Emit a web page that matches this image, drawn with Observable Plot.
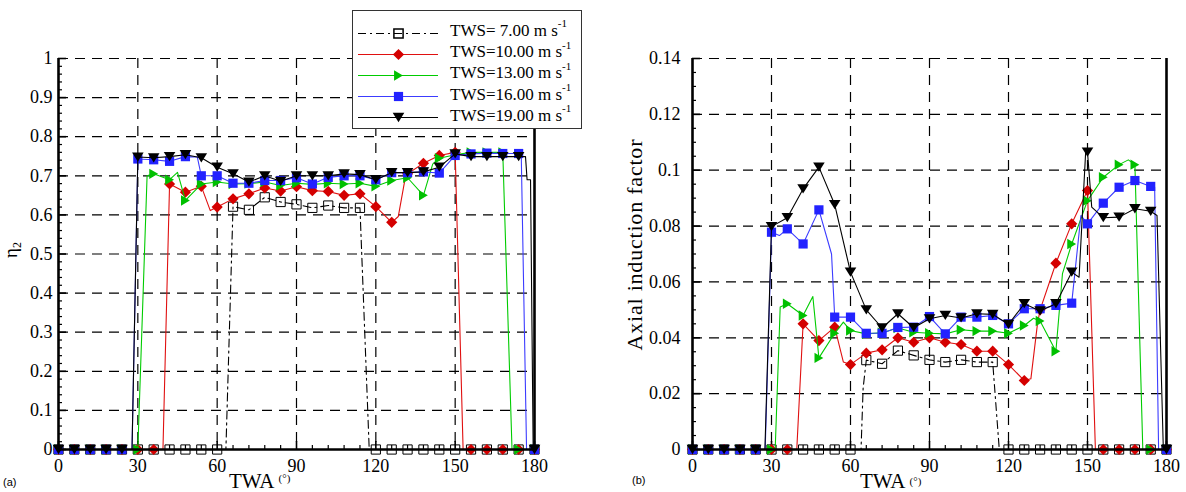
<!DOCTYPE html>
<html><head><meta charset="utf-8">
<script src="https://cdn.jsdelivr.net/npm/d3@7"></script>
<script src="https://cdn.jsdelivr.net/npm/@observablehq/plot@0.6"></script>
<style>
html,body{margin:0;padding:0;background:#fff;}
#root{position:relative;width:1186px;height:492px;overflow:hidden;background:#fff;}
#root > svg{position:absolute;top:0;}
#legend{position:absolute;left:352px;top:10px;width:230px;height:119px;border:1px solid #333;box-sizing:border-box;background:#fff;}
#legend svg{position:absolute;left:0;top:0;}
#legend .lt{position:absolute;left:97px;height:22px;line-height:22px;font:17px "Liberation Serif",serif;color:#000;white-space:nowrap;}
#legend .lt sup{font-size:11px;position:relative;top:-2px;line-height:0;}
</style></head><body><div id="root"></div>
<script>
// ---------- axis ticks / labels ----------
const TWA_TICKS = [0, 30, 60, 90, 120, 150, 180];
const TWA_GRID = [30, 60, 90, 120, 150];
const TWA_MINOR = [6,12,18,24,36,42,48,54,66,72,78,84,96,102,108,114,126,132,138,144,156,162,168,174];
const ETA_TICKS = [0, 0.1, 0.2, 0.3, 0.4, 0.5, 0.6, 0.7, 0.8, 0.9, 1];
const ETA_LABELS = ["0","0.1","0.2","0.3","0.4","0.5","0.6","0.7","0.8","0.9","1"];
const ETA_MINOR = [0.02,0.04,0.06,0.08,0.12,0.14,0.16,0.18,0.22,0.24,0.26,0.28,0.32,0.34,0.36,0.38,0.42,0.44,0.46,0.48,0.52,0.54,0.56,0.58,0.62,0.64,0.66,0.68,0.72,0.74,0.76,0.78,0.82,0.84,0.86,0.88,0.92,0.94,0.96,0.98];
const AIF_TICKS = [0, 0.02, 0.04, 0.06, 0.08, 0.1, 0.12, 0.14];
const AIF_LABELS = ["0","0.02","0.04","0.06","0.08","0.1","0.12","0.14"];
const AIF_MINOR = [0.005,0.01,0.015,0.025,0.03,0.035,0.045,0.05,0.055,0.065,0.07,0.075,0.085,0.09,0.095,0.105,0.11,0.115,0.125,0.13,0.135];
const TWS_NAMES = ["TWS= 7.00", "TWS=10.00", "TWS=13.00", "TWS=16.00", "TWS=19.00"];

// ---------- (a) eta_2 vs TWA : [TWA, value] ----------
const eta7 = [[0,0],[6,0],[12,0],[18,0],[24,0],[30,0],[36,0],[42,0],[48,0],[54,0],[60,0],[63.3,0],[66,0.621],[72,0.613],[78,0.645],[84,0.633],[90,0.627],[96,0.618],[102,0.624],[108,0.618],[114,0.618],[117.5,0],[120,0],[126,0],[132,0],[138,0],[144,0],[150,0],[156,0],[162,0],[168,0],[174,0],[180,0]];
const eta10 = [[0,0],[6,0],[12,0],[18,0],[24,0],[30,0],[36,0],[39.5,0],[42,0.679],[48,0.658],[54,0.673],[57.4,0.611],[60,0.62],[66,0.641],[72,0.654],[78,0.669],[84,0.661],[90,0.672],[96,0.662],[102,0.66],[108,0.65],[114,0.654],[120,0.621],[126,0.581],[128.5,0.596],[131,0.69],[132,0.705],[138,0.732],[144,0.752],[150,0.76],[153,0],[156,0],[162,0],[168,0],[174,0],[180,0]];
const eta13 = [[0,0],[6,0],[12,0],[18,0],[24,0],[30,0],[33.5,0.70],[36,0.705],[42,0.69],[45,0.709],[48,0.637],[54,0.679],[60,0.684],[66,0.679],[72,0.68],[78,0.684],[84,0.675],[90,0.681],[96,0.678],[102,0.681],[108,0.679],[114,0.681],[120,0.673],[126,0.688],[132,0.695],[138,0.65],[141.5,0.73],[144,0.745],[150,0.754],[156,0.76],[162,0.76],[168,0.76],[171.5,0],[174,0],[180,0]];
const eta16 = [[0,0],[6,0],[12,0],[18,0],[24,0],[27.8,0],[30,0.743],[36,0.741],[42,0.737],[48,0.749],[52.5,0.748],[54,0.70],[60,0.70],[66,0.681],[72,0.681],[78,0.688],[84,0.688],[90,0.695],[96,0.679],[102,0.696],[108,0.70],[114,0.70],[120,0.69],[126,0.708],[132,0.708],[138,0.71],[144,0.707],[150,0.752],[156,0.756],[162,0.758],[168,0.757],[174,0.757],[175,0.75],[177,0],[180,0]];
const eta19 = [[0,0],[6,0],[12,0],[18,0],[24,0],[27.8,0],[30,0.748],[36,0.746],[42,0.749],[48,0.754],[54,0.746],[60,0.722],[66,0.705],[72,0.684],[78,0.70],[84,0.686],[90,0.70],[96,0.70],[102,0.70],[108,0.705],[114,0.703],[120,0.69],[126,0.708],[132,0.708],[138,0.71],[144,0.722],[150,0.756],[156,0.749],[162,0.749],[168,0.749],[174,0.749],[176.6,0.749],[177.2,0.69],[178.5,0.69],[179.5,0],[180,0]];

// ---------- (b) axial induction factor vs TWA ----------
const aif7 = [[0,0],[6,0],[12,0],[18,0],[24,0],[30,0],[36,0],[42,0],[48,0],[54,0],[60,0],[64,0],[64.8,0.022],[66,0.032],[72,0.0307],[78,0.0354],[84,0.0337],[90,0.0321],[96,0.0313],[102,0.0321],[108,0.0313],[114,0.0313],[116.5,0],[120,0],[126,0],[132,0],[138,0],[144,0],[150,0],[156,0],[162,0],[168,0],[174,0],[180,0]];
const aif10 = [[0,0],[6,0],[12,0],[18,0],[24,0],[30,0],[36,0],[39.6,0],[42,0.045],[48,0.039],[54,0.0438],[57.3,0.0313],[60,0.0304],[66,0.0345],[72,0.0357],[78,0.04],[84,0.0384],[90,0.04],[96,0.0384],[102,0.0376],[108,0.0352],[114,0.0352],[120,0.0304],[126,0.0247],[128.5,0.0253],[131,0.045],[132,0.05],[138,0.0667],[144,0.0808],[150,0.0927],[153,0],[156,0],[162,0],[168,0],[174,0],[180,0]];
const aif13 = [[0,0],[6,0],[12,0],[18,0],[24,0],[30,0],[31.4,0],[33.3,0.051],[36,0.0522],[42,0.048],[45.7,0.0548],[48,0.0328],[54,0.0416],[57.3,0.0456],[60,0.0426],[66,0.0414],[72,0.0418],[78,0.0435],[84,0.042],[90,0.0416],[96,0.0414],[102,0.0429],[108,0.0424],[114,0.0424],[120,0.0416],[126,0.0444],[129.5,0.047],[132,0.046],[138,0.0352],[140.5,0.063],[144,0.0736],[150,0.0891],[156,0.0975],[162,0.102],[165.5,0.1037],[168,0.102],[171,0],[174,0],[180,0]];
const aif16 = [[0,0],[6,0],[12,0],[18,0],[24,0],[27.6,0],[30,0.0778],[33,0.0766],[36,0.079],[42,0.0736],[48,0.0858],[52.8,0.07],[54,0.0474],[60,0.0474],[66,0.0416],[72,0.0416],[78,0.0437],[84,0.0438],[90,0.0476],[96,0.0414],[102,0.0474],[108,0.0474],[114,0.048],[120,0.045],[126,0.0504],[132,0.0504],[138,0.0516],[144,0.0524],[147.5,0.0838],[150,0.0808],[156,0.0882],[162,0.0939],[168,0.0963],[174,0.0942],[175.5,0.094],[177,0],[180,0]];
const aif19 = [[0,0],[6,0],[12,0],[18,0],[24,0],[27.5,0],[30,0.0798],[36,0.083],[42,0.0933],[48,0.1011],[54,0.0877],[60,0.0635],[66,0.05],[72,0.0435],[78,0.0486],[84,0.0436],[90,0.0468],[96,0.048],[102,0.0471],[108,0.0486],[114,0.0484],[120,0.0448],[126,0.0522],[132,0.0496],[138,0.0522],[144,0.0635],[146.8,0.0617],[149.3,0.1065],[150,0.1065],[151.6,0.0868],[156,0.083],[162,0.0832],[168,0.0862],[174,0.0853],[176.4,0.0838],[178.8,0],[180,0]];

// ---------- symbols & styles ----------
const sq = {draw(c, s){const h=Math.sqrt(s/Math.PI); c.moveTo(-h,-h); c.lineTo(h,-h); c.lineTo(h,h); c.lineTo(-h,h); c.closePath();}};
const dia = {draw(c, s){const h=Math.sqrt(s/Math.PI); c.moveTo(0,-h); c.lineTo(h,0); c.lineTo(0,h); c.lineTo(-h,0); c.closePath();}};
const triR = {draw(c, s){const h=Math.sqrt(s/Math.PI); c.moveTo(-0.85*h,-h); c.lineTo(0.85*h,0); c.lineTo(-0.85*h,h); c.closePath();}};
const triD = {draw(c, s){const h=Math.sqrt(s/Math.PI); c.moveTo(-h,-0.8*h); c.lineTo(h,-0.8*h); c.lineTo(0,0.8*h); c.closePath();}};
const STYLES = [
  {line:"#000", dash:"8,4,2,4", sym:sq, r:4.6, fill:"none", mstroke:"#000", sw:1.1},
  {line:"#e01010", dash:null, sym:dia, r:5.6, fill:"#d40000", mstroke:"none", sw:1.1},
  {line:"#00cc00", dash:null, sym:triR, r:5.2, fill:"#00c000", mstroke:"none", sw:1.1},
  {line:"#3c3cff", dash:null, sym:sq, r:4.6, fill:"#2222ff", mstroke:"none", sw:1.1},
  {line:"#000", dash:null, sym:triD, r:5.8, fill:"#000", mstroke:"none", sw:1.1}
];
const FONT = "'Liberation Serif', 'Times New Roman', serif";

function seriesMarks(data, st) {
  return [
    Plot.line(data, {x: d => d[0], y: d => d[1], stroke: st.line, strokeWidth: st.sw, strokeDasharray: st.dash}),
    Plot.dot(data.filter(d => d[0] % 6 === 0), {x: d => d[0], y: d => d[1], symbol: st.sym, r: st.r, fill: st.fill, stroke: st.mstroke, strokeWidth: 1})
  ];
}

function panel({series, yMax, yTicks, yLabels, yMinor, ml, mr, yPad}) {
  const W = 593, H = 492, mt = 58, mb = 43;
  const iw = W - ml - mr, ih = H - mt - mb;
  const grid = {stroke: "#000", strokeWidth: 1.2, strokeDasharray: "10,7"};
  return Plot.plot({
    width: W, height: H, marginLeft: ml, marginRight: mr, marginTop: mt, marginBottom: mb,
    x: {domain: [0, 180]}, y: {domain: [0, yMax]},
    style: {fontFamily: FONT, fontSize: "18px", color: "#000", background: "transparent", overflow: "visible"},
    marks: [
      Plot.ruleY(yTicks.slice(1), grid),
      Plot.ruleX(TWA_GRID, grid),
      Plot.ruleX(TWA_MINOR, {insetTop: ih - 4, stroke: "#000", strokeWidth: 1.2}),
      Plot.ruleX(TWA_TICKS, {insetTop: ih - 8, stroke: "#000", strokeWidth: 1.6}),
      Plot.ruleY(yMinor, {insetRight: iw - 4, stroke: "#000", strokeWidth: 1.2}),
      Plot.ruleY(yTicks, {insetRight: iw - 8, stroke: "#000", strokeWidth: 1.6}),
      ...series.flatMap((s, i) => seriesMarks(s, STYLES[i])),
      Plot.ruleX([0, 180], {stroke: "#000", strokeWidth: 2.6}),
      Plot.ruleY([0], {stroke: "#000", strokeWidth: 2.6}),
      Plot.axisX(TWA_TICKS, {tickSize: 0, tickPadding: 10, fontSize: 18, label: null, tickFormat: d => String(d)}),
      Plot.axisY(yTicks, {tickSize: 0, tickPadding: yPad, fontSize: 18, label: null, tickFormat: d => yLabels[yTicks.indexOf(d)]})
    ]
  });
}

const root = document.getElementById("root");
const left = panel({series: [eta7, eta10, eta13, eta16, eta19], yMax: 1, yTicks: ETA_TICKS, yLabels: ETA_LABELS, yMinor: ETA_MINOR, ml: 58, mr: 59, yPad: 6});
left.style.left = "0px";
root.appendChild(left);
const right = panel({series: [aif7, aif10, aif13, aif16, aif19], yMax: 0.14, yTicks: AIF_TICKS, yLabels: AIF_LABELS, yMinor: AIF_MINOR, ml: 99, mr: 20, yPad: 12});
right.style.left = "593px";
root.appendChild(right);

// ---------- titles ----------
const NS = "http://www.w3.org/2000/svg";
const ov = document.createElementNS(NS, "svg");
ov.setAttribute("width", 1186); ov.setAttribute("height", 492);
ov.style.left = "0px";
ov.innerHTML = `
<g font-family="${FONT.replace(/'/g, "")}" fill="#000">
  <text transform="translate(17,250) rotate(-90)" text-anchor="middle" font-size="19">η<tspan font-size="12" dy="4">2</tspan></text>
  <text transform="translate(642,245) rotate(-90)" text-anchor="middle" font-size="22" textLength="211" lengthAdjust="spacing">Axial induction factor</text>
  <text x="229" y="488" font-size="21">TWA <tspan font-size="11" dy="-6">(°)</tspan></text>
  <text x="860" y="488" font-size="21">TWA <tspan font-size="11" dy="-3">(°)</tspan></text>
</g>
<g font-family="Liberation Sans, Arial, sans-serif" font-size="11" fill="#000">
  <text x="3" y="486">(a)</text>
  <text x="632" y="484">(b)</text>
</g>`;
root.appendChild(ov);

// ---------- legend ----------
const lg = document.createElement("div");
lg.id = "legend";
root.appendChild(lg);
const legendMarks = [];
STYLES.forEach((st, i) => {
  legendMarks.push(Plot.ruleY([i], {y: d => d, x1: 0, x2: 1, stroke: st.line, strokeWidth: st.sw, strokeDasharray: st.dash}));
  legendMarks.push(Plot.dot([i], {x: 0.5, y: d => d, symbol: st.sym, r: st.r, fill: st.fill, stroke: st.mstroke}));
});
const lp = Plot.plot({
  width: 228, height: 117, marginLeft: 5, marginRight: 143, marginTop: 21, marginBottom: 11,
  x: {domain: [0, 1], axis: null},
  y: {type: "point", domain: [0, 1, 2, 3, 4], padding: 0, axis: null},
  style: {background: "transparent", overflow: "visible"},
  marks: legendMarks
});
lg.appendChild(lp);
TWS_NAMES.forEach((n, i) => {
  const d = document.createElement("div");
  d.className = "lt";
  d.style.top = (21 + i * 21.2 - 11) + "px";
  d.innerHTML = `${n} m s<sup>-1</sup>`;
  lg.appendChild(d);
});
</script></body></html>
